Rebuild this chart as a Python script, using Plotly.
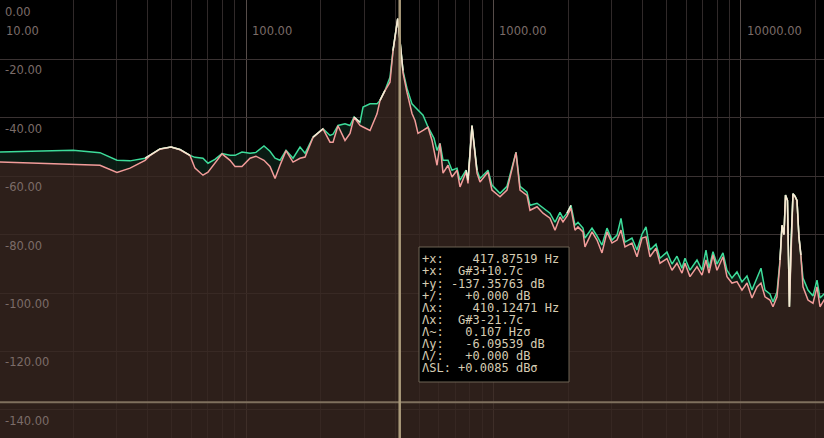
import numpy as np
import plotly.graph_objects as go

# ---------------- data ----------------
freq_hz = [10.0, 14.7, 20.0, 25.7, 30.1, 34.0, 39.1, 40.9, 44.9, 49.8,
           54.1, 59.4, 62.2, 67.0, 70.2, 74.9, 80.0, 86.2, 90.3, 96.3,
           103.8, 109.7, 118.2, 125.0, 131.0, 137.2, 145.1, 154.9, 165.3, 173.2,
           186.5, 204.7, 218.5, 224.7, 235.3, 251.2, 263.2, 273.2, 288.9, 297.1,
           317.0, 338.3, 347.8, 364.4, 381.7, 392.5, 410.1, 419.0, 430.8, 447.2,
           468.5, 481.8, 495.4, 519.1, 543.8, 564.4, 575.0, 591.3, 608.0, 625.2,
           655.0, 679.8, 712.2, 732.3, 774.4, 788.9, 818.7, 857.7, 882.0, 950.2,
           986.0, 1062.4, 1133.6, 1233.0, 1279.8, 1365.9, 1404.5, 1499.1, 1584.9, 1691.6,
           1772.1, 1856.6, 1909.1, 1981.5, 2056.4, 2134.5, 2194.8, 2299.3, 2342.5, 2500.3,
           2619.3, 2744.0, 2874.6, 3011.4, 3154.7, 3274.5, 3398.3, 3626.9, 3799.6, 3981.1,
           4132.0, 4288.4, 4535.0, 4707.3, 5023.0, 5262.1, 5512.6, 5775.3, 5938.5, 6221.3,
           6640.6, 6956.8, 7220.9, 7424.8, 7706.9, 7998.3, 8457.5, 8776.6, 9195.9, 9633.7,
           10092.5, 10573.0, 11076.8, 11604.2, 12044.0, 12501.7, 13096.6, 13467, 13978,
           14375, 14645, 14918, 15130, 15410, 15690, 15922, 16222, 16527, 16837,
           17152, 17474, 17805, 18652, 19539, 20282, 20855, 22050]

green_db = [-51.8, -51.5, -51.2, -52.0, -54.6, -54.8, -53.9, -52.9, -50.7, -50.1,
            -50.9, -52.9, -53.6, -53.9, -55.6, -54.3, -52.3, -52.9, -52.9, -51.8,
            -52.2, -51.9, -49.7, -51.5, -53.9, -54.6, -51.2, -53.9, -50.1, -52.2,
            -46.7, -43.8, -46.1, -45.7, -42.7, -42.1, -42.7, -39.8, -41.6, -36.4,
            -35.3, -35.3, -34.1, -30.7, -26.2, -17.1, -6.1, -13.7, -23.9, -30.0,
            -35.3, -36.4, -37.5, -39.2, -43.2, -45.5, -47.1, -51.2, -48.8, -54.6,
            -54.6, -58.0, -57.3, -61.4, -58.0, -61.4, -42.7, -58.0, -60.8, -58.0,
            -63.1, -65.9, -63.5, -51.8, -63.5, -65.5, -70.0, -69.3, -71.0, -72.7,
            -75.8, -72.4, -74.4, -72.7, -70.0, -76.8, -75.8, -77.8, -81.2, -77.8,
            -80.5, -83.6, -77.8, -81.9, -80.2, -74.5, -82.6, -81.2, -85.3, -79.9,
            -77.4, -85.3, -83.3, -88.1, -86.0, -90.1, -87.4, -91.5, -88.1, -92.2,
            -88.7, -92.2, -85.3, -91.5, -85.9, -90.1, -86.3, -92.2, -94.9, -92.8,
            -96.2, -94.2, -99.0, -94.9, -91.5, -99.0, -100.3, -103.1, -99.7,
            -88.7, -76.8, -80.0, -66.5, -68.3, -104.7, -84.0, -66.0, -66.9, -68.3,
            -80.9, -87.0, -94.9, -99.0, -101.0, -95.6, -101.7, -99.7]

pink_db = [-55.2, -55.6, -56.1, -56.3, -58.8, -57.3, -54.6, -53.0, -50.8, -50.1,
           -51.0, -53.0, -57.3, -59.7, -58.7, -55.6, -52.4, -54.6, -56.7, -56.7,
           -53.9, -53.2, -54.6, -56.7, -60.8, -56.3, -51.3, -55.2, -53.9, -53.5,
           -46.8, -43.9, -48.4, -48.4, -42.8, -47.8, -45.4, -39.9, -42.7, -43.2,
           -44.4, -38.7, -34.2, -30.8, -27.9, -17.3, -6.1, -13.8, -24.6, -31.4,
           -38.6, -41.0, -45.4, -44.4, -43.3, -47.8, -51.2, -56.3, -48.9, -59.0,
           -56.3, -60.3, -58.0, -63.7, -58.6, -62.5, -42.8, -59.0, -62.0, -58.6,
           -64.8, -67.1, -64.8, -51.9, -64.8, -66.6, -71.7, -70.5, -72.7, -74.4,
           -78.5, -74.0, -75.7, -73.7, -71.0, -78.5, -77.4, -79.1, -84.2, -79.1,
           -81.9, -86.3, -79.1, -82.9, -81.9, -78.5, -84.2, -82.9, -87.6, -81.2,
           -80.8, -87.6, -84.7, -89.8, -88.2, -92.2, -89.8, -93.2, -89.8, -94.4,
           -91.0, -93.9, -88.7, -93.2, -87.0, -92.2, -87.6, -94.4, -96.6, -96.1,
           -99.0, -96.6, -101.7, -97.9, -96.6, -101.3, -102.4, -104.7, -101.3,
           -89.5, -76.9, -80.1, -66.6, -68.4, -104.8, -84.1, -66.1, -67.0, -68.4,
           -81.0, -87.5, -97.9, -102.4, -103.5, -97.9, -104.7, -101.3]

x_tick_vals = [10, 100, 1000, 10000]
x_tick_text = ["10.00", "100.00", "1000.00", "10000.00"]
y_tick_vals = [0, -20, -40, -60, -80, -100, -120, -140]
y_tick_text = ["0.00", "-20.00", "-40.00", "-60.00", "-80.00", "-100.00", "-120.00", "-140.00"]

cursor_hz = 417.87519
cursor_db = -137.35763

readout_lines = [
    "+x:    417.87519 Hz",
    "+x:  G#3+10.7c",
    "+y: -137.35763 dB",
    "+/:   +0.000 dB",
    "Λx:    410.12471 Hz",
    "Λx:  G#3-21.7c",
    "Λ~:   0.107 Hzσ",
    "Λy:   -6.09539 dB",
    "Λ/:   +0.000 dB",
    "ΛSL: +0.0085 dBσ",
]

assert len(freq_hz) == len(green_db) == len(pink_db)

# ---------------- figure ----------------
W, H = 824, 438
floor_db = -160
y_range = [-149.6, 0.23]
x_range = [1.006, 4.3354]

overlap = [max(g, p) if abs(g - p) <= 1.2 else None for g, p in zip(green_db, pink_db)]

fig = go.Figure()
fig.add_trace(go.Scatter(x=freq_hz, y=[floor_db] * len(freq_hz), mode="lines",
                         line=dict(width=0, color="rgba(0,0,0,0)"), hoverinfo="skip", showlegend=False))
fig.add_trace(go.Scatter(x=freq_hz, y=pink_db, mode="lines", fill="tonexty",
                         fillcolor="rgba(56,39,32,0.8)", line=dict(width=0, color="rgba(0,0,0,0)"),
                         hoverinfo="skip", showlegend=False))
fig.add_trace(go.Scatter(x=freq_hz, y=green_db, mode="lines", fill="tonexty",
                         fillcolor="rgba(13,34,24,0.8)", line=dict(width=0, color="rgba(0,0,0,0)"),
                         hoverinfo="skip", showlegend=False))
fig.add_trace(go.Scatter(x=freq_hz, y=green_db, mode="lines",
                         line=dict(width=1.5, color="#3ddc9a"), showlegend=False))
fig.add_trace(go.Scatter(x=freq_hz, y=pink_db, mode="lines",
                         line=dict(width=1.5, color="#f29c9a"), showlegend=False))
fig.add_trace(go.Scatter(x=freq_hz, y=overlap, mode="lines", connectgaps=False,
                         line=dict(width=1.5, color="#f4ebd4"), showlegend=False))
# cursor lines
fig.add_trace(go.Scatter(x=[5, 30000], y=[cursor_db, cursor_db], mode="lines",
                         line=dict(width=2, color="#7f705e"), showlegend=False))
fig.add_trace(go.Scatter(x=[cursor_hz, cursor_hz], y=[floor_db, 10], mode="lines",
                         line=dict(width=2.5, color="#ab9b7b"), showlegend=False))

annotations = []
label_font = dict(family="DejaVu Sans", size=11.5, color="#7b6c68")
for v, t in zip(x_tick_vals, x_tick_text):
    px = max(0.0, (np.log10(v) - x_range[0]) / (x_range[1] - x_range[0]))
    annotations.append(dict(x=px, xref="paper", y=1 - 30.7 / H, yref="paper",
                            text=t, showarrow=False, xanchor="left", yanchor="middle",
                            xshift=4, font=label_font))
for v, t in zip(y_tick_vals, y_tick_text):
    annotations.append(dict(x=3 / W, xref="paper", y=v, yref="y",
                            text=t, showarrow=False, xanchor="left", yanchor="middle",
                            yshift=-11, font=label_font))

box_x0, box_x1, box_y0, box_y1 = 419, 569, 247, 382
for i, line in enumerate(readout_lines):
    annotations.append(dict(x=421 / W, xref="paper", y=1 - (259.3 + i * 12.1) / H, yref="paper",
                            text=line.replace(" ", "\u00a0"), showarrow=False,
                            xanchor="left", yanchor="middle", borderpad=0,
                            font=dict(family="DejaVu Sans Mono", size=12, color="#d6ccb3")))

shapes = [dict(type="rect", xref="paper", yref="paper",
               x0=box_x0 / W, x1=box_x1 / W, y0=1 - box_y1 / H, y1=1 - box_y0 / H,
               line=dict(color="#6e6454", width=1), fillcolor="#000000", layer="above")]

fig.update_layout(
    width=W, height=H,
    margin=dict(l=0, r=0, t=0, b=0),
    paper_bgcolor="#000000", plot_bgcolor="#000000",
    showlegend=False,
    annotations=annotations, shapes=shapes,
    xaxis=dict(type="log", range=x_range, showticklabels=False, ticks="",
               showgrid=True, gridcolor="#564c49", gridwidth=1, dtick=1,
               zeroline=False, showline=False,
               minor=dict(dtick="D1", showgrid=True, gridcolor="#302929", gridwidth=1, ticks="")),
    yaxis=dict(range=y_range, showticklabels=False, ticks="", dtick=20, tick0=0,
               showgrid=True, gridcolor="#3a3232", gridwidth=1,
               zeroline=False, showline=False),
)

fig.write_html("out.html", config={"displayModeBar": False},
               post_script="document.body.style.margin='0';document.body.style.background='#000';"
                           "document.body.style.overflow='hidden';")
